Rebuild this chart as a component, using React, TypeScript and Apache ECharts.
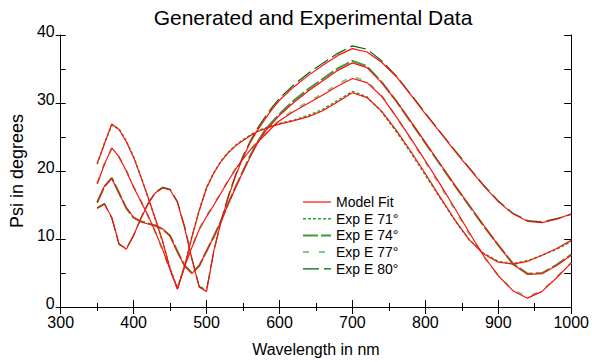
import React, { useEffect, useRef } from "react";
import * as echarts from "echarts";

const FONT = '"Liberation Sans", Arial, Helvetica, sans-serif';

const wavelengths = [350, 360, 370, 380, 390, 400, 410, 420, 430, 440, 450, 460, 470, 480, 490, 500, 510, 520, 530, 540, 550, 560, 570, 580, 590, 600, 620, 640, 660, 680, 700, 720, 740, 760, 780, 800, 820, 840, 860, 880, 900, 920, 940, 960, 980, 1000];

const model71 = [21.1, 24.0, 26.9, 26.1, 24.3, 22.0, 19.1, 16.1, 12.9, 9.6, 5.6, 2.6, 6.0, 10.3, 14.2, 17.5, 19.7, 21.4, 22.7, 23.7, 24.5, 25.2, 25.8, 26.2, 26.6, 26.9, 27.4, 28.0, 28.9, 30.2, 31.5, 30.8, 28.8, 26.0, 22.9, 19.6, 16.2, 12.9, 9.9, 7.8, 6.6, 6.3, 6.7, 7.6, 8.6, 9.8];
const model74 = [15.3, 17.8, 18.9, 16.7, 14.6, 13.2, 12.5, 12.2, 11.9, 11.5, 10.4, 8.1, 6.0, 4.9, 6.0, 8.3, 10.3, 12.6, 15.2, 17.6, 19.9, 22.1, 24.1, 25.8, 27.0, 28.2, 30.1, 31.8, 33.3, 34.8, 35.9, 35.2, 33.0, 30.3, 27.3, 24.2, 21.1, 18.0, 15.0, 12.0, 9.1, 6.3, 4.8, 4.9, 6.1, 7.6];
const model77 = [18.1, 21.0, 23.4, 22.1, 20.0, 17.6, 15.5, 13.4, 11.0, 8.4, 5.5, 2.7, 6.0, 8.8, 11.4, 13.3, 15.0, 16.8, 18.6, 20.3, 21.8, 23.1, 24.2, 25.3, 26.4, 27.4, 28.8, 30.0, 31.2, 32.5, 33.6, 33.0, 31.0, 28.0, 24.8, 21.5, 18.1, 14.6, 11.0, 7.5, 4.6, 2.4, 1.3, 2.3, 4.3, 6.5];
const model80 = [14.5, 15.1, 13.2, 9.3, 8.5, 10.6, 13.0, 15.2, 16.8, 17.5, 17.2, 15.4, 11.6, 7.0, 2.9, 2.3, 8.3, 12.6, 16.2, 19.3, 22.0, 24.2, 26.0, 27.6, 29.1, 30.4, 32.4, 34.1, 35.6, 37.0, 38.0, 37.5, 36.0, 33.9, 31.2, 28.4, 25.7, 23.0, 20.4, 17.8, 15.5, 13.7, 12.6, 12.4, 12.9, 13.7];

const exp71 = [21.0, 24.1, 26.7, 26.2, 24.4, 22.1, 19.2, 16.0, 12.8, 9.5, 5.7, 2.8, 6.1, 10.4, 14.3, 17.6, 19.8, 21.5, 22.8, 23.8, 24.6, 25.3, 25.9, 26.3, 26.7, 27.0, 27.5, 28.2, 29.1, 30.4, 31.7, 30.9, 28.7, 25.8, 22.7, 19.4, 16.1, 12.8, 9.9, 7.9, 6.7, 6.4, 6.8, 7.6, 8.5, 9.6];
const exp74 = [15.4, 17.7, 19.0, 16.8, 14.5, 13.1, 12.6, 12.3, 12.0, 11.4, 10.5, 8.2, 6.1, 5.0, 6.1, 8.2, 10.4, 12.7, 15.3, 17.7, 20.0, 22.3, 24.3, 26.0, 27.2, 28.4, 30.4, 32.1, 33.6, 35.1, 36.2, 35.4, 33.1, 30.3, 27.2, 24.1, 21.0, 17.9, 14.9, 11.9, 9.1, 6.4, 4.9, 5.0, 6.2, 7.7];
const exp77 = [18.2, 21.1, 23.3, 22.0, 20.1, 17.7, 15.6, 13.3, 10.9, 8.3, 5.4, 2.8, 6.1, 8.9, 11.5, 13.4, 15.1, 16.9, 18.7, 20.4, 21.9, 23.2, 24.3, 25.4, 26.5, 27.5, 29.0, 30.2, 31.4, 32.8, 33.9, 33.2, 31.1, 28.0, 24.7, 21.3, 17.9, 14.4, 10.8, 7.4, 4.6, 2.5, 1.5, 2.4, 4.4, 6.5];
const exp80 = [14.6, 15.2, 13.1, 9.2, 8.6, 10.5, 13.1, 15.3, 16.9, 17.6, 17.3, 15.5, 11.8, 7.1, 3.0, 2.5, 8.2, 12.7, 16.4, 19.5, 22.2, 24.4, 26.3, 27.9, 29.4, 30.7, 32.7, 34.4, 35.9, 37.3, 38.4, 37.9, 36.2, 34.0, 31.3, 28.5, 25.8, 23.1, 20.5, 17.9, 15.6, 13.8, 12.7, 12.5, 13.0, 13.6];

const legendNames = ["Model Fit", "Exp E 71°", "Exp E 74°", "Exp E 77°", "Exp E 80°"];

const RED = "#ff1010";
const styles: Record<string, { color: string; width: number; dash: any }> = {
  "Model Fit": { color: RED, width: 1.2, dash: "solid" },
  "Exp E 71°": { color: "#2fa82f", width: 1.5, dash: [3, 2] },
  "Exp E 74°": { color: "#3d9a3d", width: 2, dash: [15, 3] },
  "Exp E 77°": { color: "#86c986", width: 2, dash: [6, 10] },
  "Exp E 80°": { color: "#006400", width: 1.2, dash: [16, 5] },
};

function lineSeries(name: string, values: number[], z: number) {
  const s = styles[name];
  return {
    type: "line",
    name,
    data: wavelengths.map((w, i) => [w, values[i]]),
    showSymbol: false,
    symbol: "none",
    silent: true,
    z,
    xAxisIndex: 0,
    yAxisIndex: 0,
    itemStyle: { color: s.color },
    lineStyle: { color: s.color, width: s.width, type: s.dash },
  };
}

export default function App() {
  const ref = useRef<HTMLDivElement>(null);
  useEffect(() => {
    if (!ref.current) return;
    const chart = echarts.init(ref.current, undefined, { renderer: "svg" });
    const black = "#000";
    const tickStyle = { color: black, width: 1 };
    chart.setOption({
      animation: false,
      backgroundColor: "#fff",
      textStyle: { fontFamily: FONT },
      grid: { left: 54, right: 20, top: 35, bottom: 55, containLabel: false },
      graphic: [
        {
          type: "text",
          x: 313,
          y: 17,
          style: {
            text: "Generated and Experimental Data",
            fontSize: 21,
            fontFamily: FONT,
            fill: black,
            align: "center",
            verticalAlign: "middle",
          },
        },
      ],
      legend: {
        data: legendNames.map((n) => ({
          name: n,
          itemStyle: { opacity: 0 },
          lineStyle: { color: styles[n].color, width: styles[n].width, type: styles[n].dash, opacity: 1 },
        })),
        orient: "vertical",
        left: 302,
        top: 195,
        padding: 0,
        itemWidth: 28,
        itemHeight: 14,
        itemGap: 2.7,
        selectedMode: false,
        itemStyle: { opacity: 0 },
        textStyle: { fontSize: 14, color: black, fontFamily: FONT, lineHeight: 14 },
      },
      xAxis: [
        {
          type: "value",
          position: "bottom",
          min: 300,
          max: 1000,
          interval: 100,
          name: "Wavelength in nm",
          nameLocation: "middle",
          nameGap: 34,
          nameTextStyle: { fontSize: 16, color: black, fontFamily: FONT },
          axisLine: { show: true, lineStyle: tickStyle },
          axisTick: { show: true, inside: true, length: 7, lineStyle: tickStyle },
          minorTick: { show: true, splitNumber: 2, length: 4, lineStyle: tickStyle },
          axisLabel: { fontSize: 16, color: black, margin: 7, fontFamily: FONT, formatter: (v: number) => String(v) },
          splitLine: { show: false },
        },
        {
          type: "value",
          position: "top",
          min: 300,
          max: 1000,
          interval: 100,
          axisLine: { show: true, lineStyle: tickStyle },
          axisTick: { show: true, inside: true, length: 7, lineStyle: tickStyle },
          minorTick: { show: true, splitNumber: 2, length: 4, lineStyle: tickStyle },
          axisLabel: { show: false },
          splitLine: { show: false },
        },
      ],
      yAxis: [
        {
          type: "value",
          position: "left",
          min: 0,
          max: 40,
          interval: 10,
          name: "Psi in degrees",
          nameLocation: "middle",
          nameGap: 27,
          nameTextStyle: { fontSize: 18, color: black, fontFamily: FONT },
          axisLine: { show: true, lineStyle: tickStyle },
          axisTick: { show: true, inside: false, length: 5, lineStyle: tickStyle },
          axisLabel: {
            color: black,
            margin: 6,
            formatter: (v: number) => "{a|" + String(v) + "}",
            rich: {
              a: { fontSize: 16, color: black, fontFamily: FONT, lineHeight: 16, padding: [0, 0, 8, 0] },
            },
          },
          splitLine: { show: false },
        },
        {
          type: "value",
          position: "left",
          min: 0,
          max: 40,
          interval: 5,
          axisLine: { show: false },
          axisTick: { show: true, inside: true, length: 5, lineStyle: tickStyle },
          axisLabel: { show: false },
          splitLine: { show: false },
        },
        {
          type: "value",
          position: "right",
          min: 0,
          max: 40,
          interval: 5,
          axisLine: { show: true, lineStyle: tickStyle },
          axisTick: { show: true, inside: true, length: 7, lineStyle: tickStyle },
          axisLabel: { show: false },
          splitLine: { show: false },
        },
      ],
      series: [
        lineSeries("Exp E 71°", exp71, 2),
        lineSeries("Exp E 74°", exp74, 2),
        lineSeries("Exp E 77°", exp77, 2),
        lineSeries("Exp E 80°", exp80, 2),
        lineSeries("Model Fit", model71, 3),
        lineSeries("Model Fit", model74, 3),
        lineSeries("Model Fit", model77, 3),
        lineSeries("Model Fit", model80, 3),
      ],
    });
    return () => chart.dispose();
  }, []);
  return (
    <div
      ref={ref}
      style={{ position: "fixed", left: 0, top: 0, width: 592, height: 362, background: "#fff" }}
    />
  );
}
